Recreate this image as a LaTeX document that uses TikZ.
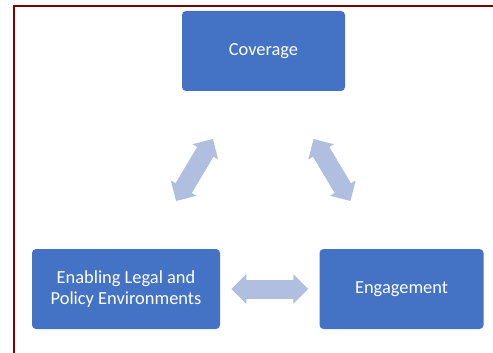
\documentclass[tikz,border=0pt]{standalone}
\usepackage{fontspec}
\setmainfont{Carlito}
\usepackage{xcolor}
\definecolor{colorBox}{HTML}{4472C4}
\definecolor{colorLink}{HTML}{B0BEDF}
\definecolor{colorFrame}{HTML}{7F0000}
\usetikzlibrary{arrows.meta, positioning}
\tikzset{box/.style={fill=colorBox, text=white, rounded corners=3pt, minimum height=60pt, align=center, font=\fontsize{13.8}{15.5}\selectfont}}

\begin{document}
\begin{tikzpicture}[x=0.75pt, y=-0.75pt, link/.style={colorLink, line width=14.25pt, {Triangle[length=11.25pt, width=21.75pt]}-{Triangle[length=11.25pt, width=21.75pt]}}]
\useasboundingbox (0,0) rectangle (493,353);
\draw[colorFrame, line width=1.5pt] (13.5,6.5) rectangle (520,380);
\node[box, minimum width=122.25pt] (cov) at (263.5,51) {Coverage};
\node[box, minimum width=141pt] (enab) at (126,289) {Enabling Legal and\\Policy Environments};
\node[box, minimum width=123pt, right=74.25pt of enab] (eng) {Engagement};
% ends of the two slanted links
\coordinate (covL) at (213,139);
\coordinate (enabT) at (176,201);
\coordinate (covR) at (313.5,139);
\coordinate (engT) at (350.5,201);
\draw[link] (enabT) -- (covL);
\draw[link] (covR) -- (engT);
\draw[link, shorten <=8.25pt, shorten >=8.25pt] (enab) -- (eng);
\end{tikzpicture}
\end{document}
